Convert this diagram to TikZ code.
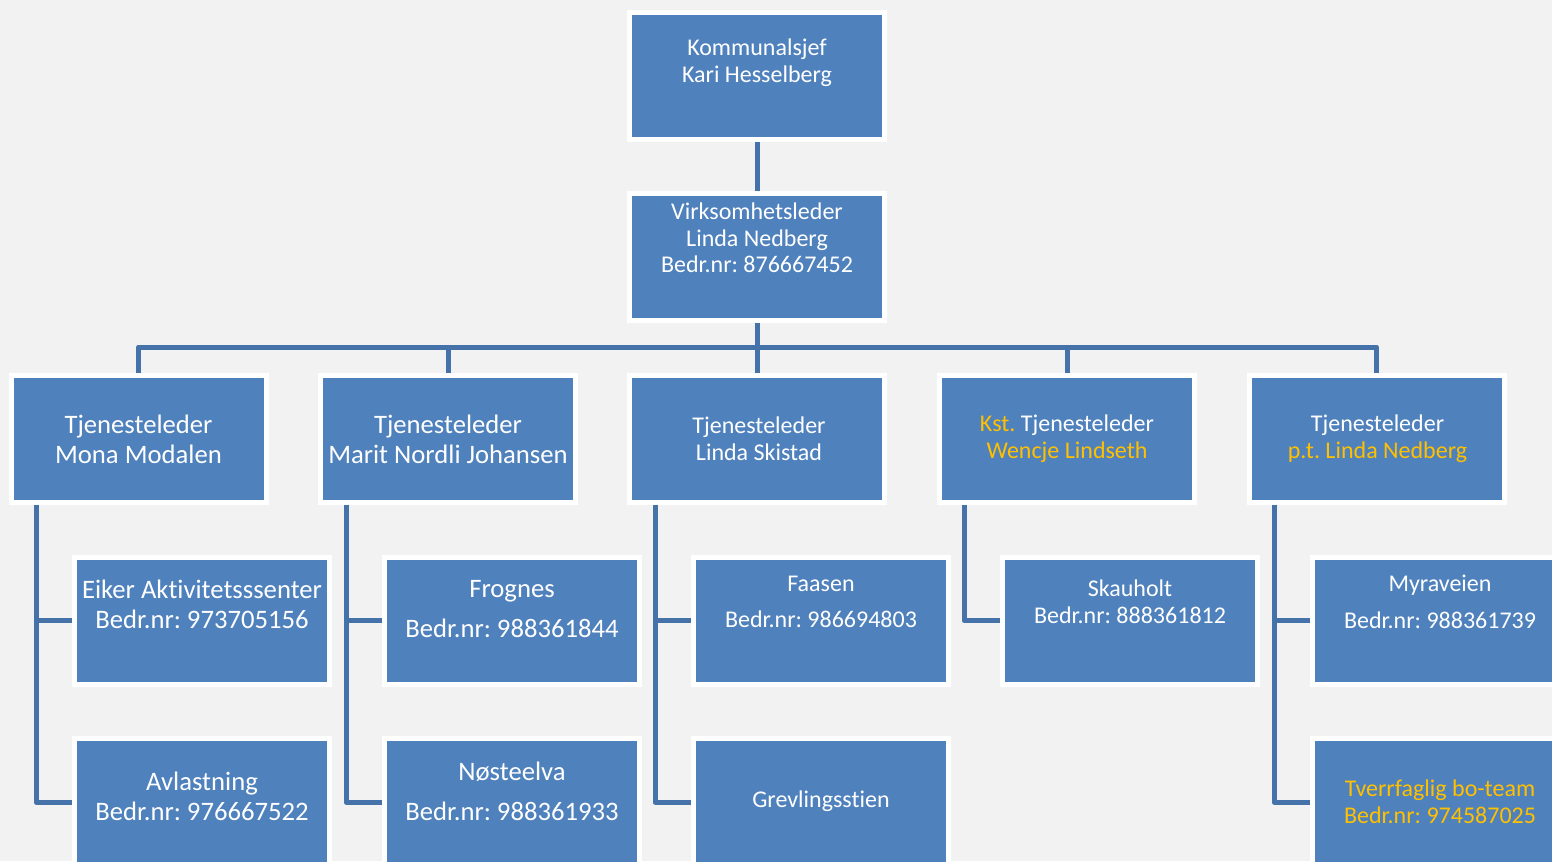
\documentclass[tikz,border=0pt]{standalone}
\usepackage{fontspec}
\setmainfont{Carlito}[Ligatures=NoCommon]
\frenchspacing
\usetikzlibrary{calc}
\definecolor{bg}{HTML}{F2F2F2}
\definecolor{boxblue}{HTML}{4F81BD}
\definecolor{linkblue}{HTML}{4672AA}
\definecolor{gul}{HTML}{FFC000}
\tikzset{
  box/.style={rectangle, fill=boxblue, draw=white, line width=3.75pt,
    minimum width=191.25pt, minimum height=95.25pt, inner sep=0pt},
  txt/.style={text=white, align=center, inner sep=0pt},
  small/.style={font=\fontsize{18}{20}\selectfont},
  big/.style={font=\fontsize{20}{22.5}\selectfont},
  link/.style={draw=linkblue, line width=3.75pt, line join=round}
}
\begin{document}
\begin{tikzpicture}[x=0.75pt,y=0.75pt,yscale=-1,xscale=1]

            % Background
            \fill[bg] (0,0) rectangle (1552,861);
            \clip (0,0) rectangle (1552,861);

            % Boxes
            \node[box] (kommsjef) at (757,76) {};
            \node[box] (virkleder) at (757,257) {};
            \node[box] (tlA) at (138.5,438.5) {};
            \node[box] (tlB) at (448,438.5) {};
            \node[box] (tlC) at (757,438.5) {};
            \node[box] (tlD) at (1067,438.5) {};
            \node[box] (tlE) at (1376.5,438.5) {};
            \node[box] (eiker) at (202,620.5) {};
            \node[box] (avlast) at (202,802) {};
            \node[box] (frognes) at (512,620.5) {};
            \node[box] (nosteelva) at (512,802) {};
            \node[box] (faasen) at (821,620.5) {};
            \node[box] (grevling) at (821,802) {};
            \node[box] (skauholt) at (1130,620.5) {};
            \node[box] (myraveien) at (1440,620.5) {};
            \node[box] (boteam) at (1440,802) {};

            % Spines
            \coordinate (bus) at (757,347);
            \coordinate (spA) at ($(eiker.west)+(-36,0)$);
            \coordinate (spB) at ($(frognes.west)+(-36,0)$);
            \coordinate (spC) at ($(faasen.west)+(-36,0)$);
            \coordinate (spD) at ($(skauholt.west)+(-36,0)$);
            \coordinate (spE) at ($(myraveien.west)+(-36,0)$);

            % Links
            \draw[link] (kommsjef.south) -- (virkleder.north);
            \foreach \t in {tlA,tlB,tlC,tlD,tlE}
              \draw[link] (virkleder.south) -- (virkleder.south |- bus) -| (\t.north);
            \draw[link] (spA |- tlA.south) |- (eiker.west);
            \draw[link] (spA |- tlA.south) |- (avlast.west);
            \draw[link] (spB |- tlB.south) |- (frognes.west);
            \draw[link] (spB |- tlB.south) |- (nosteelva.west);
            \draw[link] (spC |- tlC.south) |- (faasen.west);
            \draw[link] (spC |- tlC.south) |- (grevling.west);
            \draw[link] (spD |- tlD.south) |- (skauholt.west);
            \draw[link] (spE |- tlE.south) |- (myraveien.west);
            \draw[link] (spE |- tlE.south) |- (boteam.west);

            % Labels
            \node[txt, small] (kommsjefT) at (757,63) {Kommunalsjef\\Kari Hesselberg};
            \node[txt, small] (virklederT) at (757,238) {Virksomhetsleder\\Linda Nedberg\\Bedr.nr: 876667452};
            \node[txt, big] (tlAT) at (138.5,439) {Tjenesteleder\\Mona Modalen};
            \node[txt, big] (tlBT) at (448,439) {Tjenesteleder\\Marit Nordli Johansen};
            \node[txt, small] (tlCT) at (759,439) {Tjenesteleder\\Linda Skistad};
            \node[txt, small] (tlDT) at (1067,439) {\textcolor{gul}{Kst.} Tjenesteleder\\\textcolor{gul}{Wencje Lindseth}};
            \node[txt, small] (tlET) at (1377.5,439) {Tjenesteleder\\\textcolor{gul}{p.t. Linda Nedberg}};
            \node[txt, big] (eikerT) at (202,604.5) {Eiker Aktivitetsssenter\\Bedr.nr: 973705156};
            \node[txt, big] (avlastT) at (202,796) {Avlastning\\Bedr.nr: 976667522};
            \node[txt, big] (frognesT) at (512,609) {Frognes\\[7.5pt]Bedr.nr: 988361844};
            \node[txt, big] (nosteelvaT) at (512,791.5) {Nøsteelva\\[7.5pt]Bedr.nr: 988361933};
            \node[txt, small] (faasenT) at (821,602) {Faasen\\[7.5pt]Bedr.nr: 986694803};
            \node[txt, small] (grevlingT) at (821,801) {Grevlingsstien};
            \node[txt, small] (skauholtT) at (1130,602) {Skauholt\\Bedr.nr: 888361812};
            \node[txt, small] (myraveienT) at (1440,602) {Myraveien\\[7.5pt]Bedr.nr: 988361739};
            \node[txt, small, text=gul] (boteamT) at (1440,802) {Tverrfaglig bo-team\\Bedr.nr: 974587025};

            \end{tikzpicture}
\end{document}
